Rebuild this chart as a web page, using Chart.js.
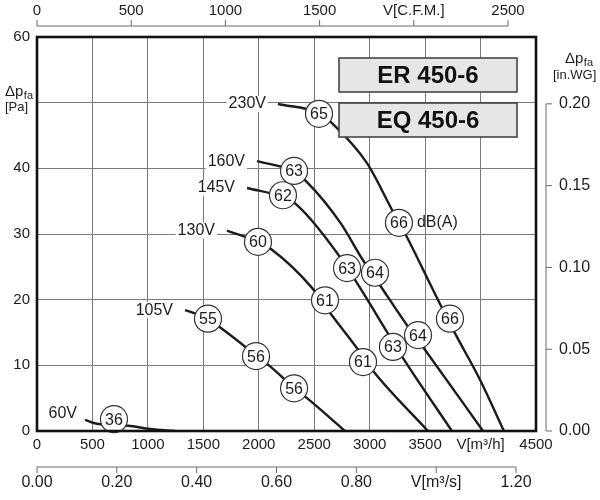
<!DOCTYPE html>
<html>
<head>
<meta charset="utf-8">
<script src="https://cdn.jsdelivr.net/npm/chart.js@4/dist/chart.umd.min.js"></script>
<style>
  html, body { margin: 0; padding: 0; background: #fff; }
  canvas { display: block; }
</style>
</head>
<body>
<canvas id="fanChart" width="600" height="500"></canvas>
<script>
// fan curves, flow in m3/h, static pressure in Pa
const voltages = ['230V', '160V', '145V', '130V', '105V', '60V'];

const flow230V = [2173, 2543, 2660, 2976, 3201, 3337, 3571, 3769, 3995, 4211];
const dp230V   = [49.8, 48.4, 46.9, 40.8, 33.7, 29.5, 21.5, 14.9, 7.8, 0];
const marks230V = [[2543, 48.3, 65], [3264, 31.7, 66], [3724, 17.1, 66]];

const flow160V = [1984, 2318, 2435, 2732, 2940, 3093, 3337, 3481, 4022];
const dp160V   = [41.1, 39.5, 37.9, 31.8, 26.0, 22.2, 16.1, 12.8, 0];
const marks160V = [[2318, 39.6, 63], [3048, 24.1, 64], [3436, 14.6, 64]];

const flow145V = [1894, 2218, 2345, 2732, 2796, 2868, 3156, 3301, 3742];
const dp145V   = [37.0, 35.6, 34.4, 26.5, 24.8, 23.0, 15.1, 11.1, 0];
const marks145V = [[2218, 35.9, 62], [2796, 24.8, 63], [3210, 12.8, 63]];

const flow130V = [1713, 1993, 2119, 2480, 2642, 2886, 3048, 3526];
const dp130V   = [30.5, 28.8, 27.6, 21.8, 18.0, 12.6, 8.8, 0];
const marks130V = [[1993, 28.8, 60], [2597, 19.9, 61], [2940, 10.5, 61]];

const flow105V = [1335, 1542, 1650, 1894, 1975, 2083, 2218, 2318, 2435, 2777];
const dp105V   = [18.4, 17.1, 15.8, 12.6, 11.4, 10.1, 8.1, 6.5, 5.0, 0];
const marks105V = [[1542, 17.1, 55], [1975, 11.4, 56], [2318, 6.5, 56]];

const flow60V = [433, 541, 820, 1019, 1244];
const dp60V   = [1.7, 1.1, 0.8, 0.3, 0];
const marks60V = [[694, 1.8, 36]];

// secondary axis ticks
const cfmTicks  = [0, 500, 1000, 1500, 2000, 2500];
const inwgTicks = [0, 0.05, 0.10, 0.15, 0.20];
const m3sTicks  = [0, 0.2, 0.4, 0.6, 0.8, 1.0, 1.2];

const models = ['ER 450-6', 'EQ 450-6'];
const flowLabel = 'V[m³/h]';
const cfmLabel = 'V[C.F.M.]';
const m3sLabel = 'V[m³/s]';

const M3H_PER_CFM = 1.699;
const PA_PER_INWG = 249.089;

const FONT = '"Liberation Sans", Arial, sans-serif';
const INK = '#1c1c1c';
const GRID = '#7a7a7a';

const curves = [
  [flow230V, dp230V, marks230V],
  [flow160V, dp160V, marks160V],
  [flow145V, dp145V, marks145V],
  [flow130V, dp130V, marks130V],
  [flow105V, dp105V, marks105V],
  [flow60V, dp60V, marks60V]
];

const datasets = [];
curves.forEach(([flow, dp, marks], i) => {
  datasets.push({
    label: voltages[i],
    data: flow.map((x, k) => ({ x: x, y: dp[k] })),
    borderColor: INK,
    borderWidth: 2.4,
    pointRadius: 0,
    cubicInterpolationMode: 'monotone',
    fill: false,
    order: 1
  });
});
curves.forEach(([flow, dp, marks], i) => {
  datasets.push({
    label: voltages[i] + ' dB',
    isMarker: true,
    data: marks.map(m => ({ x: m[0], y: m[1], db: m[2] })),
    showLine: false,
    pointRadius: 13.5,
    pointHoverRadius: 13.5,
    pointBackgroundColor: '#fff',
    pointBorderColor: '#333',
    pointBorderWidth: 1.2,
    clip: false,
    order: 0
  });
});

const fixedTicks = list => scale => { scale.ticks = list.map(v => ({ value: v })); };

const fanDecor = {
  id: 'fanDecor',
  beforeDraw(chart) {
    const ctx = chart.ctx;
    ctx.save();
    ctx.fillStyle = '#fff';
    ctx.fillRect(0, 0, chart.width, chart.height);
    ctx.restore();
  },
  afterDatasetsDraw(chart) {
    const ctx = chart.ctx;
    const area = chart.chartArea;
    const sc = chart.scales;
    ctx.save();

    // voltage labels at the start of each curve
    ctx.font = '16px ' + FONT;
    ctx.textAlign = 'right';
    ctx.textBaseline = 'middle';
    voltages.forEach((v, i) => {
      const p = chart.getDatasetMeta(i).data[0];
      const last = i === voltages.length - 1;
      const tx = p.x - (last ? 8 : 12);
      const ty = p.y - (last ? 6 : 0);
      const w = ctx.measureText(v).width;
      ctx.fillStyle = '#fff';
      ctx.fillRect(tx - w - 2, ty - 8, w + 4, 16);
      ctx.fillStyle = INK;
      ctx.fillText(v, tx, ty);
    });

    // dB numbers inside the circles
    ctx.textAlign = 'center';
    ctx.font = '16px ' + FONT;
    chart.data.datasets.forEach((ds, i) => {
      if (!ds.isMarker) return;
      chart.getDatasetMeta(i).data.forEach((el, k) => {
        ctx.fillStyle = INK;
        ctx.fillText(String(ds.data[k].db), el.x, el.y + 1);
      });
    });
    // dB(A) note
    const note = chart.getDatasetMeta(voltages.length).data[1];
    ctx.textAlign = 'left';
    ctx.fillText('dB(A)', note.x + 18, note.y);

    // plot frame
    ctx.strokeStyle = '#111';
    ctx.lineWidth = 2.6;
    ctx.strokeRect(area.left, area.top, area.right - area.left, area.bottom - area.top);

    // model boxes
    ctx.font = 'bold 24px ' + FONT;
    ctx.textAlign = 'center';
    models.forEach((m, i) => {
      const bx = area.left + 302, by = area.top + 21 + i * 45;
      ctx.fillStyle = '#e6e6e6';
      ctx.fillRect(bx, by, 178, 34);
      ctx.strokeStyle = '#3a3a3a';
      ctx.lineWidth = 1.5;
      ctx.strokeRect(bx, by, 178, 34);
      ctx.fillStyle = '#111';
      ctx.fillText(m, bx + 89, by + 18);
    });

    // secondary axis lines and tick marks
    ctx.strokeStyle = '#6a6a6a';
    ctx.lineWidth = 1;
    const cfm = sc.cfm, inwg = sc.inwg, m3s = sc.m3s;
    const ty = area.top - 11;
    ctx.beginPath();
    ctx.moveTo(cfm.getPixelForValue(cfmTicks[0]), ty);
    ctx.lineTo(cfm.getPixelForValue(cfmTicks[cfmTicks.length - 1]), ty);
    cfmTicks.forEach(v => {
      const x = cfm.getPixelForValue(v);
      ctx.moveTo(x, ty); ctx.lineTo(x, ty - 6);
    });
    const rx = area.right + 10;
    ctx.moveTo(rx, inwg.getPixelForValue(inwgTicks[0]));
    ctx.lineTo(rx, inwg.getPixelForValue(inwgTicks[inwgTicks.length - 1]));
    inwgTicks.forEach(v => {
      const y = inwg.getPixelForValue(v);
      ctx.moveTo(rx, y); ctx.lineTo(rx + 6, y);
    });
    const by = area.bottom + 36;
    ctx.moveTo(m3s.getPixelForValue(m3sTicks[0]), by);
    ctx.lineTo(m3s.getPixelForValue(m3sTicks[m3sTicks.length - 1]), by);
    m3sTicks.forEach(v => {
      const x = m3s.getPixelForValue(v);
      ctx.moveTo(x, by); ctx.lineTo(x, by + 6);
    });
    ctx.stroke();

    // axis titles  Δp_fa
    const dpTitle = (x, y, unit, ux) => {
      ctx.fillStyle = INK;
      ctx.textAlign = 'left';
      ctx.textBaseline = 'middle';
      ctx.font = '15px ' + FONT;
      ctx.fillText('Δp', x, y);
      const w = ctx.measureText('Δp').width;
      ctx.font = '11px ' + FONT;
      ctx.fillText('fa', x + w + 0.5, y + 4);
      ctx.font = '13px ' + FONT;
      ctx.fillText(unit, ux, y + 16);
    };
    dpTitle(5, sc.y.getPixelForValue(50) - 11, '[Pa]', 5);
    dpTitle(area.right + 29, area.top + 22, '[in.WG]', area.right + 17);

    ctx.restore();
  }
};

const tickFont = { family: FONT, size: 15 };
const tickFont2 = { family: FONT, size: 16 };

new Chart(document.getElementById('fanChart'), {
  type: 'line',
  data: { datasets: datasets },
  plugins: [fanDecor],
  options: {
    responsive: false,
    animation: false,
    devicePixelRatio: 1,
    layout: { padding: 0 },
    plugins: { legend: { display: false }, tooltip: { enabled: false } },
    scales: {
      x: {
        type: 'linear', position: 'bottom', weight: 0,
        min: 0, max: 4500,
        afterFit: s => { s.height = 24; },
        grid: { color: GRID, lineWidth: 1, drawTicks: false },
        border: { display: false },
        ticks: {
          stepSize: 500, autoSkip: false, maxRotation: 0, padding: 5,
          color: INK, font: tickFont,
          callback: v => v === 4000 ? flowLabel : v
        }
      },
      m3s: {
        type: 'linear', position: 'bottom', weight: 1,
        min: 0, max: 4500 / 3600,
        afterBuildTicks: fixedTicks(m3sTicks),
        afterFit: s => { s.height = 45; },
        grid: { display: false, drawTicks: false },
        border: { display: false },
        ticks: {
          autoSkip: false, maxRotation: 0, padding: 18,
          color: INK, font: tickFont2,
          callback: v => Math.abs(v - 1) < 1e-6 ? m3sLabel : v.toFixed(2)
        }
      },
      cfm: {
        type: 'linear', position: 'top',
        min: 0, max: 4500 / M3H_PER_CFM,
        afterBuildTicks: fixedTicks(cfmTicks),
        afterFit: s => { s.height = 37; },
        grid: { display: false, drawTicks: false },
        border: { display: false },
        ticks: {
          autoSkip: false, maxRotation: 0, padding: 17,
          color: INK, font: tickFont,
          callback: v => v === 2000 ? cfmLabel : v
        }
      },
      y: {
        type: 'linear', position: 'left',
        min: 0, max: 60,
        afterFit: s => { s.width = 37; },
        grid: { color: GRID, lineWidth: 1, drawTicks: false },
        border: { display: false },
        ticks: {
          stepSize: 10, padding: 7, color: INK, font: tickFont,
          callback: v => v === 50 ? '' : v
        }
      },
      inwg: {
        type: 'linear', position: 'right',
        min: 0, max: 60 / PA_PER_INWG,
        afterBuildTicks: fixedTicks(inwgTicks),
        afterFit: s => { s.width = 64; },
        grid: { display: false, drawTicks: false },
        border: { display: false },
        ticks: {
          padding: 23, color: INK, font: tickFont2,
          callback: v => v.toFixed(2)
        }
      }
    }
  }
});
</script>
</body>
</html>
